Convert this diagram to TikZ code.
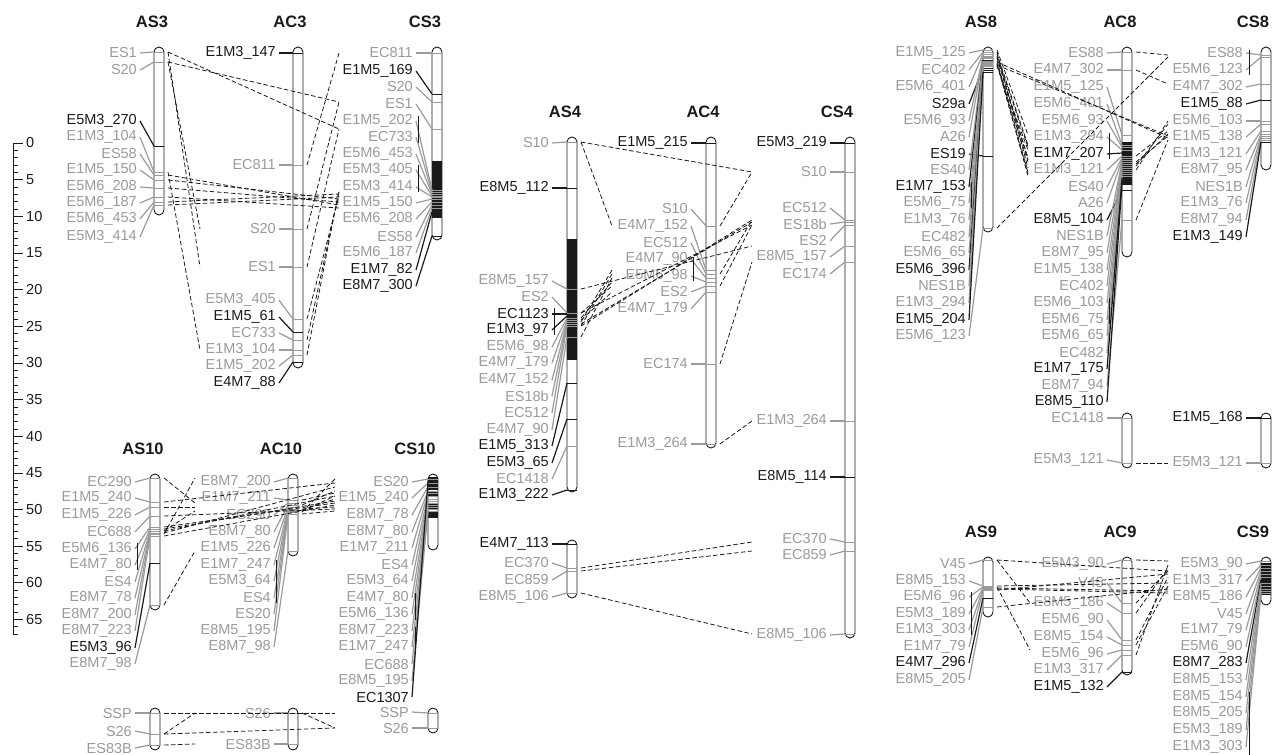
\documentclass[tikz,border=0pt]{standalone}
\usepackage{fontspec}
\setmainfont{Liberation Sans}
\usetikzlibrary{positioning}
\definecolor{gl}{HTML}{9A9A9A}
\definecolor{bk}{HTML}{1A1A1A}
\newcommand\lblfont{\fontsize{14.5}{16}\selectfont}
\newcommand\ttlfont{\fontsize{16.5}{18}\selectfont\bfseries}
\tikzset{
chr/.style={draw=bk, fill=white, line width=0.9pt, rounded corners=5pt,
  minimum width=10pt, inner sep=0pt, outer sep=0pt},
lab/.style={text=#1, font=\lblfont, inner sep=1pt, anchor=east},
lead/.style={draw=#1, line width=1.2pt},
tk/.style={draw=#1, line width=0.9pt},
link/.style={draw=bk, line width=0.8pt, dash pattern=on 4.5pt off 2.5pt},
vbr/.style={draw=bk, line width=0.8pt},
ttl/.style={font=\ttlfont, text=bk},
num/.style={font=\lblfont, text=bk, anchor=west, inner sep=1pt}
}
\newcommand\chrom[4]{\node[chr, minimum height={#4-#3}] (#1) at ({#2+5},{(#3+#4)/2}) {};}
\newcommand\band[3]{\fill[bk] (#1,#2) rectangle ({#1+10},#3);}
\newcommand\markers[5]{%
  \foreach \ly/\ty/\txt/\cl [count=\i] in {#5}{%
    \coordinate (#1-t\i) at (#2,\ty);
    \coordinate (#1-o\i) at ({#2+14},\ty);
    \coordinate (#1-i\i) at (#4,\ty);
    \draw[tk=\cl] (#1-t\i) -- ++(10,0);
    \node[lab=\cl] (#1-l\i) at (#3,\ly) {\txt};
    \draw[lead=\cl] ([xshift=2pt]#1-l\i.east) -- (#1-t\i);
  }}
\newcommand\links[3]{\foreach \a/\b in {#3}{\draw[link] (#1-o\a) -- (#2-i\b);}}
\newcommand\vbar[3]{\draw[vbr] (#1,#2) -- (#1,#3);}

\begin{document}
\begin{tikzpicture}[x=1pt,y=-1pt]
\useasboundingbox (0,0) rectangle (1272,755);

% scale
\draw[bk, line width=0.8pt] (13,143) coordinate (sc0) -- (13,634) coordinate (sc1);
\foreach \k in {0,...,67}{\draw[bk, line width=0.7pt] (13,{143+7.33*\k}) -- ++(5,0);}
\foreach \k in {0,5,...,65}{
  \draw[bk, line width=0.7pt] (13,{143+7.33*\k}) -- ++(10,0);
  \node[num] (sc-\k) at (25,{143+7.33*\k}) {\k};
}

% titles
\node[ttl] (as3t) at (152,22) {AS3};
\node[ttl] (ac3t) at (290,22) {AC3};
\node[ttl] (cs3t) at (425,22) {CS3};
\node[ttl] (as10t) at (143,449) {AS10};
\node[ttl] (ac10t) at (281,449) {AC10};
\node[ttl] (cs10t) at (415,449) {CS10};
\node[ttl] (as4t) at (565,112) {AS4};
\node[ttl] (ac4t) at (703,112) {AC4};
\node[ttl] (cs4t) at (837,112) {CS4};
\node[ttl] (as8t) at (981,22) {AS8};
\node[ttl] (ac8t) at (1120,22) {AC8};
\node[ttl] (cs8t) at (1253,22) {CS8};
\node[ttl] (as9t) at (981,532) {AS9};
\node[ttl] (ac9t) at (1120,532) {AC9};
\node[ttl] (cs9t) at (1253,532) {CS9};

% group 3
\chrom{as3}{154}{47}{215}
\markers{as3}{154}{138}{0}{53/52/ES1/gl, 70/62/S20/gl, 121/146/E5M3\_270/bk, 137/172/E1M3\_104/gl,
  154/175/ES58/gl, 170/180/E1M5\_150/gl, 187/188/E5M6\_208/gl, 203/197/E5M6\_187/gl,
  219/202/E5M6\_453/gl, 237/205/E5M3\_414/gl}
\chrom{ac3}{293}{47}{368}
\markers{ac3}{293}{277}{200}{53/53/E1M3\_147/bk, 165/165/EC811/gl, 229/229/S20/gl, 267/267/ES1/gl,
  300/319/E5M3\_405/gl, 317/332/E1M5\_61/bk, 333/340/EC733/gl, 350/350/E1M3\_104/gl,
  366/355/E1M5\_202/gl, 383/362/E4M7\_88/bk}
\chrom{cs3}{432}{47}{240}
\band{432}{161}{218}
\markers{cs3}{432}{414}{339}{53/53/EC811/gl, 71/94/E1M5\_169/bk, 87/102/S20/gl, 104/129/ES1/gl,
  121/190/E1M5\_202/gl, 137/192/EC733/gl, 154/194/E5M6\_453/gl, 170/196/E5M3\_405/gl,
  187/197/E5M3\_414/gl, 203/199/E1M5\_150/gl, 219/202/E5M6\_208/gl, 237/205/ES58/gl,
  253/208/E5M6\_187/gl, 270/212/E1M7\_82/bk, 286/236/E8M7\_300/bk}
\vbar{418}{116}{143}
\vbar{418}{165}{192}
\links{as3}{ac3}{1/4,2/3,4/8}
\links{as3}{cs3}{1/4,2/3,5/12,6/10,7/11,8/13,9/7,10/9}
\links{ac3}{cs3}{2/1,3/3,4/4,5/8,7/6,9/5}

% group 10
\chrom{as10}{150}{474}{610}
\markers{as10}{150}{133}{0}{482/478/EC290/gl, 498/502/E1M5\_240/gl, 515/507/E1M5\_226/gl,
  532/516/EC688/gl, 549/527/E5M6\_136/gl, 565/529/E4M7\_80/gl, 582/531/ES4/gl,
  598/533/E8M7\_78/gl, 615/534/E8M7\_200/gl, 631/536/E8M7\_223/gl, 648/563/E5M3\_96/bk,
  664/605/E8M7\_98/gl}
\vbar{137}{543}{570}
\chrom{ac10}{288}{474}{556}
\markers{ac10}{288}{272}{195}{482/478/E8M7\_200/gl, 498/500/E1M7\_211/gl, 515/503/EC290/gl,
  532/505/E8M7\_80/gl, 548/507/E1M5\_226/gl, 565/509/E1M7\_247/gl, 581/510/E5M3\_64/gl,
  598/511/ES4/gl, 614/512/ES20/gl, 631/514/E8M5\_195/gl, 647/551/E8M7\_98/gl}
\vbar{276}{560}{603}
\chrom{cs10}{428}{474}{550}
\band{428}{477}{490}
\band{428}{492}{497}
\band{428}{503}{509}
\band{428}{511}{518}
\markers{cs10}{428}{410}{335}{482/479/ES20/gl, 498/483/E1M5\_240/gl, 515/487/E8M7\_78/gl,
  532/491/E8M7\_80/gl, 548/493/E1M7\_211/gl, 565/496/ES4/gl, 581/499/E5M3\_64/gl,
  598/501/E4M7\_80/gl, 614/503/E5M6\_136/gl, 631/505/E8M7\_223/gl, 647/507/E1M7\_247/gl,
  664/509/EC688/gl, 681/511/E8M5\_195/gl, 697/481/EC1307/bk}
\vbar{415}{593}{620}
\vbar{415}{627}{653}
\links{as10}{ac10}{1/3,3/5,7/8,9/1,12/11}
\links{as10}{cs10}{2/2,4/12,5/9,6/8,7/6,8/3,10/10}
\links{ac10}{cs10}{2/5,4/4,6/11,7/7,8/6,9/1,10/13}

\chrom{as10b}{150}{708}{750}
\markers{as10b}{150}{133}{0}{713/713/SSP/gl, 731/734/S26/gl, 748/745/ES83B/gl}
\chrom{ac10b}{288}{708}{750}
\markers{ac10b}{288}{272}{195}{713/713/S26/gl, 744/744/ES83B/gl}
\chrom{cs10b}{428}{708}{733}
\markers{cs10b}{428}{410}{335}{712/713/SSP/gl, 728/728/S26/gl}
\links{as10b}{ac10b}{2/1,3/2}
\links{as10b}{cs10b}{1/1,2/2}
\links{ac10b}{cs10b}{1/2}

% group 4
\chrom{as4}{567}{137}{492}
\band{567}{239}{360}
\markers{as4}{567}{550}{0}{143/142/S10/gl, 188/188/E8M5\_112/bk, 281/289/E8M5\_157/gl,
  297/313/ES2/gl, 314/314/EC1123/bk, 330/316/E1M3\_97/bk, 347/318/E5M6\_98/gl,
  363/320/E4M7\_179/gl, 380/322/E4M7\_152/gl, 396/324/ES18b/gl, 413/326/EC512/gl,
  430/337/E4M7\_90/gl, 446/383/E1M5\_313/bk, 463/419/E5M3\_65/bk, 479/446/EC1418/gl,
  495/490/E1M3\_222/bk}
\vbar{554}{308}{335}
\chrom{ac4}{706}{137}{448}
\markers{ac4}{706}{689}{612}{143/143/E1M5\_215/bk, 209/226/S10/gl, 226/270/E4M7\_152/gl,
  243/274/EC512/gl, 259/278/E4M7\_90/gl, 276/282/E5M6\_98/gl, 292/286/ES2/gl,
  309/292/E4M7\_179/gl, 364/364/EC174/gl, 444/444/E1M3\_264/gl}
\vbar{693}{257}{281}
\chrom{cs4}{845}{137}{638}
\markers{cs4}{845}{828}{752}{143/143/E5M3\_219/bk, 172/172/S10/gl, 208/220/EC512/gl,
  224/222/ES18b/gl, 241/225/ES2/gl, 257/246/E8M5\_157/gl, 274/262/EC174/gl,
  421/421/E1M3\_264/gl, 477/477/E8M5\_114/bk, 539/542/EC370/gl, 555/551/EC859/gl,
  635/634/E8M5\_106/gl}
\chrom{as4b}{567}{540}{598}
\markers{as4b}{567}{550}{0}{544/544/E4M7\_113/bk, 563/568/EC370/gl, 580/571/EC859/gl,
  597/593/E8M5\_106/gl}
\links{as4}{ac4}{1/2,9/3,11/4,12/5,7/6,4/7,8/8}
\links{as4}{cs4}{1/2,11/3,10/4,4/5,3/6}
\links{ac4}{cs4}{2/2,4/3,7/5,9/7,10/8}
\links{as4b}{cs4}{2/10,3/11,4/12}

% group 8
\chrom{as8}{983}{47}{232}
\markers{as8}{983}{967}{0}{53/50/E1M5\_125/gl, 70/52/EC402/gl, 87/54/E5M6\_401/gl,
  104/68/S29a/bk, 121/56/E5M6\_93/gl, 137/57/A26/gl, 154/156/ES19/bk, 170/58/ES40/gl,
  187/60/E1M7\_153/bk, 203/61/E5M6\_75/gl, 220/62/E1M3\_76/gl, 237/63/EC482/gl,
  253/64/E5M6\_65/gl, 270/70/E5M6\_396/bk, 286/65/NES1B/gl, 303/66/E1M3\_294/gl,
  320/72/E1M5\_204/bk, 336/228/E5M6\_123/gl}
\vbar{971}{182}{208}
\chrom{ac8}{1122}{47}{257}
\band{1122}{142}{185}
\markers{ac8}{1122}{1105}{1028}{53/52/ES88/gl, 70/70/E4M7\_302/gl, 87/135/E1M5\_125/gl,
  104/145/E5M6\_401/gl, 121/147/E5M6\_93/gl, 137/150/E1M3\_294/gl, 154/153/E1M7\_207/bk,
  170/156/E1M3\_121/gl, 187/158/ES40/gl, 203/160/A26/gl, 220/190/E8M5\_104/bk,
  236/162/NES1B/gl, 253/164/E8M7\_95/gl, 270/166/E1M5\_138/gl, 286/168/EC402/gl,
  303/170/E5M6\_103/gl, 320/172/E5M6\_75/gl, 336/174/E5M6\_65/gl, 353/176/EC482/gl,
  369/178/E1M7\_175/bk, 386/220/E8M7\_94/gl, 402/183/E8M5\_110/bk}
\vbar{1109}{133}{159}
\vbar{1109}{298}{324}
\chrom{ac8b}{1122}{413}{468}
\markers{ac8b}{1122}{1105}{1028}{418/418/EC1418/gl, 460/463/E5M3\_121/gl}
\chrom{cs8}{1261}{47}{170}
\markers{cs8}{1261}{1244}{1168}{53/55/ES88/gl, 70/57/E5M6\_123/gl, 87/84/E4M7\_302/gl,
  104/100/E1M5\_88/bk, 121/121/E5M6\_103/gl, 137/124/E1M5\_138/gl, 154/131/E1M3\_121/gl,
  170/134/E8M7\_95/gl, 187/136/NES1B/gl, 203/138/E1M3\_76/gl, 220/140/E8M7\_94/gl,
  237/142/E1M3\_149/bk}
\vbar{1249}{50}{75}
\chrom{cs8b}{1261}{413}{468}
\markers{cs8b}{1261}{1244}{1168}{418/418/E1M5\_168/bk, 463/463/E5M3\_121/gl}
\links{as8}{ac8}{1/3,2/15,3/4,5/5,6/10,8/9,10/17,12/19,13/18,15/12,16/6}
\links{as8}{cs8}{11/10,15/9,18/2}
\links{ac8}{cs8}{1/1,2/3,8/7,12/9,13/8,14/6,16/5,21/11}
\links{ac8b}{cs8b}{2/2}

% group 9
\chrom{as9}{983}{557}{617}
\markers{as9}{983}{967}{0}{564/560/V45/gl, 581/586/E8M5\_153/gl, 597/587/E5M6\_96/gl,
  614/588/E5M3\_189/gl, 630/589/E1M3\_303/gl, 647/590/E1M7\_79/gl, 663/598/E4M7\_296/bk,
  680/607/E8M5\_205/gl}
\vbar{971}{592}{635}
\chrom{ac9}{1122}{557}{675}
\markers{ac9}{1122}{1105}{1030}{564/560/E5M3\_90/gl, 583/603/V45/gl, 603/613/E8M5\_186/gl,
  620/640/E5M6\_90/gl, 637/645/E8M5\_154/gl, 654/650/E5M6\_96/gl, 670/655/E1M3\_317/gl,
  687/672/E1M5\_132/bk}
\chrom{cs9}{1261}{557}{605}
\band{1261}{563}{595}
\markers{cs9}{1261}{1244}{1168}{564/561/E5M3\_90/gl, 581/565/E1M3\_317/gl, 597/568/E8M5\_186/gl,
  614/571/V45/gl, 630/574/E1M7\_79/gl, 647/577/E5M6\_90/gl, 663/580/E8M7\_283/bk,
  680/583/E8M5\_153/gl, 697/586/E8M5\_154/gl, 713/589/E8M5\_205/gl, 730/591/E5M3\_189/gl,
  747/593/E1M3\_303/gl}
\vbar{1249}{692}{755}
\links{as9}{ac9}{1/2,3/6}
\links{as9}{cs9}{1/4,2/8,4/11,5/12,6/5,8/10}
\links{ac9}{cs9}{1/1,2/4,3/3,4/6,5/9,7/2}
\end{tikzpicture}
\end{document}
